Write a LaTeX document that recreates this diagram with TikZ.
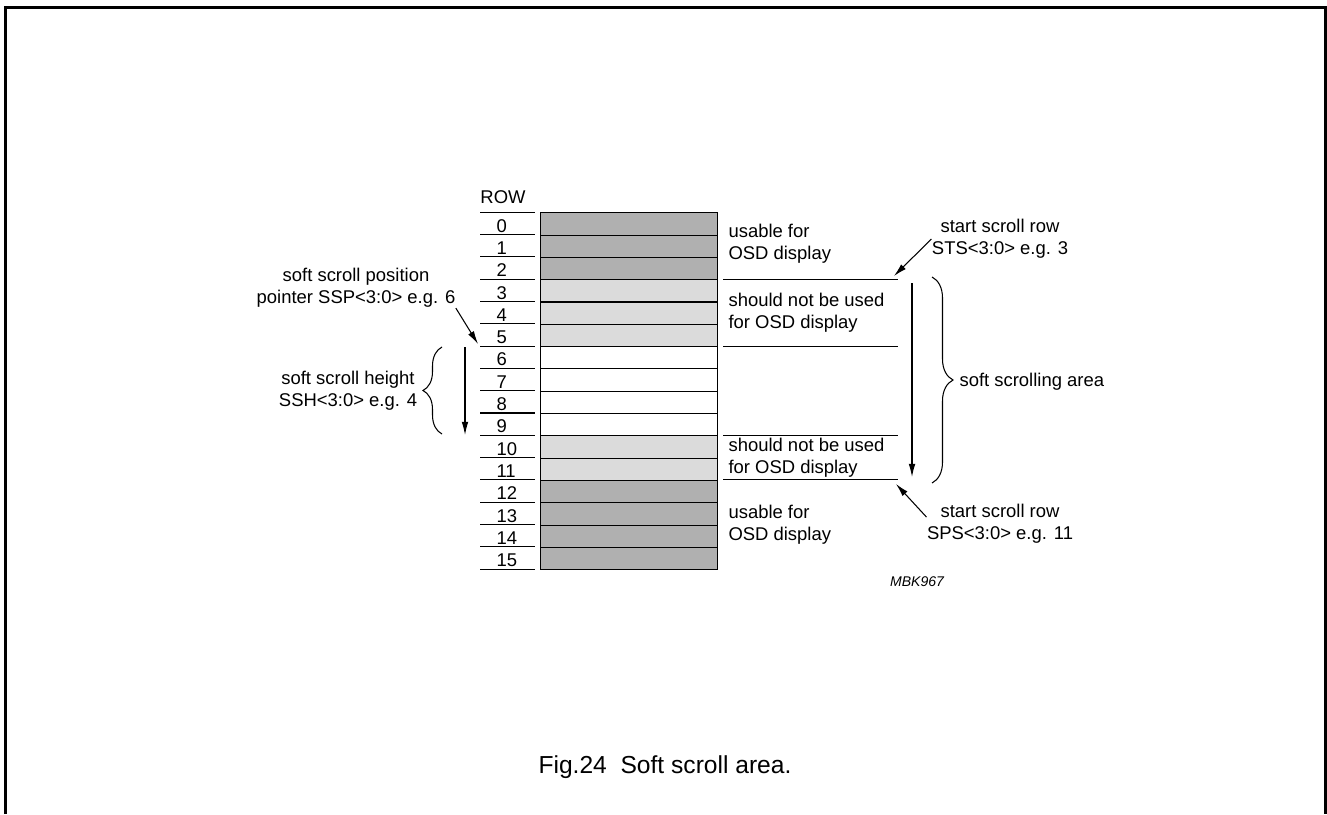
\documentclass[tikz,border=0pt]{standalone}
\usepackage{fontspec}
\setmainfont{Liberation Sans}
\usetikzlibrary{arrows.meta,decorations.pathreplacing}
\definecolor{usablegray}{gray}{0.69}
\definecolor{blockedgray}{gray}{0.86}
\begin{document}
\begin{tikzpicture}[x=0.02cm, y=-0.02cm, line width=0.6pt,
  txt/.style={font=\fontsize{10.5}{12.5}\selectfont, inner sep=0pt, align=center},
  ltxt/.style={txt, align=left, anchor=west},
  cell/.style={draw, anchor=north west, inner sep=0pt, minimum width=3.54cm, minimum height=0.446cm},
  num/.style={txt, anchor=base west},
  arr/.style={-{Latex[length=7.5pt,width=3.8pt]}},
  brace/.style={decorate, decoration={brace, amplitude=#1}}]
\useasboundingbox (0,0) rectangle (1327,814);
\draw[line width=1.2pt] (5.5,814) -- (5.5,7.5) -- (1325.5,7.5) -- (1325.5,814);
\node[txt] (rowhead) at (503,197){ROW};
\draw (480,212.3) -- (535,212.3);
\node[cell, fill=usablegray] (row0) at (540,212.3){};
\node[num] (num0) at (496,232.1){0};
\draw (480,234.6) -- (535,234.6);
\node[cell, fill=usablegray] (row1) at (540,234.6){};
\node[num] (num1) at (496,254.4){1};
\draw (480,256.9) -- (535,256.9);
\node[cell, fill=usablegray] (row2) at (540,256.9){};
\node[num] (num2) at (496,276.7){2};
\draw (480,279.2) -- (535,279.2);
\node[cell, fill=blockedgray] (row3) at (540,279.2){};
\node[num] (num3) at (496,299.0){3};
\draw (480,301.5) -- (535,301.5);
\node[cell, fill=blockedgray] (row4) at (540,301.5){};
\node[num] (num4) at (496,321.3){4};
\draw (480,323.8) -- (535,323.8);
\node[cell, fill=blockedgray] (row5) at (540,323.8){};
\node[num] (num5) at (496,343.6){5};
\draw (480,346.1) -- (535,346.1);
\node[cell, fill=white] (row6) at (540,346.1){};
\node[num] (num6) at (496,365.9){6};
\draw (480,368.4) -- (535,368.4);
\node[cell, fill=white] (row7) at (540,368.4){};
\node[num] (num7) at (496,388.2){7};
\draw (480,390.7) -- (535,390.7);
\node[cell, fill=white] (row8) at (540,390.7){};
\node[num] (num8) at (496,410.5){8};
\draw (480,413.0) -- (535,413.0);
\node[cell, fill=white] (row9) at (540,413.0){};
\node[num] (num9) at (496,432.8){9};
\draw (480,435.3) -- (535,435.3);
\node[cell, fill=blockedgray] (row10) at (540,435.3){};
\node[num] (num10) at (496,455.1){10};
\draw (480,457.6) -- (535,457.6);
\node[cell, fill=blockedgray] (row11) at (540,457.6){};
\node[num] (num11) at (496,477.4){11};
\draw (480,479.9) -- (535,479.9);
\node[cell, fill=usablegray] (row12) at (540,479.9){};
\node[num] (num12) at (496,499.7){12};
\draw (480,502.2) -- (535,502.2);
\node[cell, fill=usablegray] (row13) at (540,502.2){};
\node[num] (num13) at (496,522.0){13};
\draw (480,524.5) -- (535,524.5);
\node[cell, fill=usablegray] (row14) at (540,524.5){};
\node[num] (num14) at (496,544.3){14};
\draw (480,546.8) -- (535,546.8);
\node[cell, fill=usablegray] (row15) at (540,546.8){};
\node[num] (num15) at (496,566.6){15};
\draw (480,569.1) -- (535,569.1);
\draw (723,279.2) -- (898,279.2);
\draw (723,346.1) -- (898,346.1);
\draw (723,435.3) -- (898,435.3);
\draw (723,479.9) -- (898,479.9);
\node[ltxt] (usetop) at (728,244){usable for\\OSD display};
\node[ltxt] (nousetop) at (728,312.5){should not be used\\for OSD display};
\node[ltxt] (nousebot) at (728,457.5){should not be used\\for OSD display};
\node[ltxt] (usebot) at (728,525){usable for\\OSD display};
\node[txt] (sts) at (1000,239){start scroll row\\STS<3:0> e.g. 3};
\coordinate (stsend) at (894,276);
\draw[arr] (sts.west) -- (stsend);
\node[txt] (sps) at (1000,523.5){start scroll row\\SPS<3:0> e.g. 11};
\coordinate (spsend) at (896,484);
\draw[arr] (sps.175) -- (spsend);
\coordinate (areatop) at (912,283);
\coordinate (areabot) at (912,477);
\draw[arr] (areatop) -- (areabot);
\draw[brace=0.42cm] (932,277) -- (932,483);
\node[txt, anchor=west] (area) at (959,382){soft scrolling area};
\node[txt] (ssp) at (356,288){soft scroll position\\pointer SSP<3:0> e.g. 6};
\coordinate (sspend) at (478,344);
\draw[arr] (ssp.south east) -- (sspend);
\coordinate (sshtop) at (465,347);
\coordinate (sshbot) at (465,435);
\draw[arr] (sshtop) -- (sshbot);
\draw[brace=0.38cm] (442,434) -- (442,347);
\node[txt] (ssh) at (348,391){soft scroll height\\SSH<3:0> e.g. 4};
\node[font=\fontsize{8}{9}\selectfont\itshape, inner sep=0pt] (code) at (917,582){MBK967};
\node[font=\fontsize{14}{16}\selectfont, inner sep=0pt] (caption) at (665,767){Fig.24\ \ Soft scroll area.};
\end{tikzpicture}
\end{document}
